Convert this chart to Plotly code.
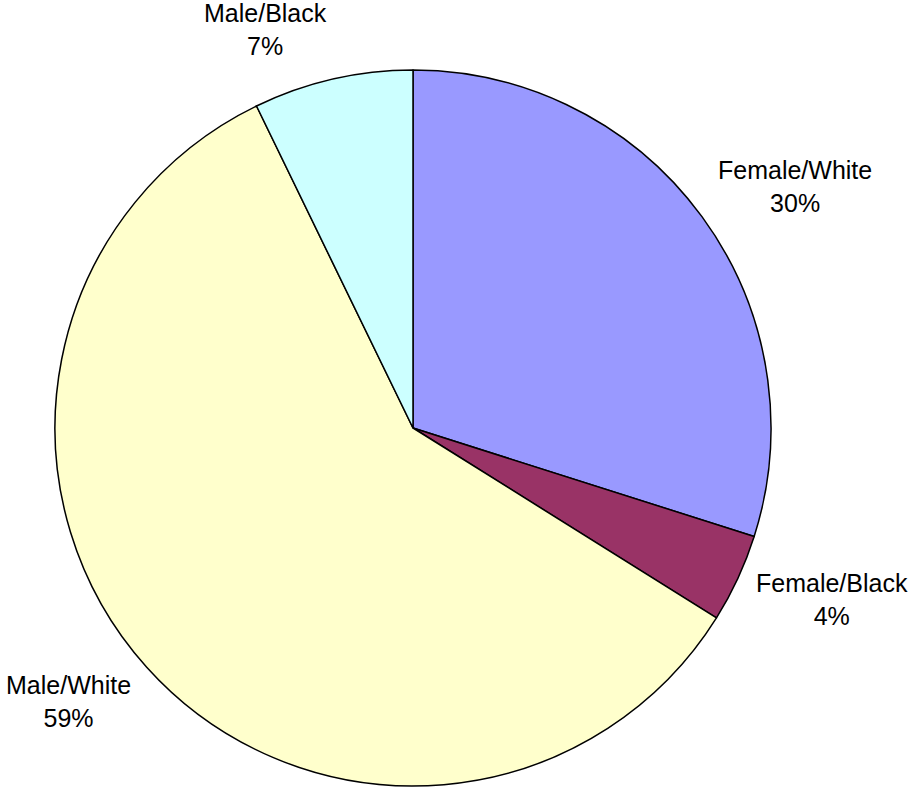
import math
import plotly.graph_objects as go

labels = ["Female/White", "Female/Black", "Male/White", "Male/Black"]
values = [29.9, 4.0, 58.9, 7.2]
colors = ["#9999FF", "#993366", "#FFFFCC", "#CCFFFF"]

W, H = 913, 788
cx, cy, r = 413, 428, 358
label_gap = 18
font_size = 25
block_h = 2 * 1.3 * font_size  # two text lines
font = dict(family="Liberation Sans, Arial, sans-serif", size=font_size, color="black")

fig = go.Figure(go.Pie(
    labels=labels,
    values=values,
    sort=False,
    direction="clockwise",
    rotation=0,
    marker=dict(colors=colors, line=dict(color="black", width=1.5)),
    textinfo="none",
    hoverinfo="label+percent",
    showlegend=False,
    domain=dict(x=[(cx - r) / W, (cx + r) / W], y=[(H - cy - r) / H, (H - cy + r) / H]),
))

# outside-end data labels, placed from each slice's mid-angle
total = sum(values)
cum = 0.0
for lab, v in zip(labels, values):
    mid = (cum + v / 2) / total * 2 * math.pi
    cum += v
    s, c = math.sin(mid), math.cos(mid)
    R = r + label_gap
    px = cx + s * R
    py = cy - c * R - c * block_h / 2
    fig.add_annotation(
        x=px / W, y=1 - py / H, xref="paper", yref="paper",
        text=f"{lab}<br>{round(v / total * 100)}%",
        showarrow=False, font=font, align="center",
        xanchor="left" if s > 0 else "right",
        yanchor="middle",
    )

fig.update_layout(
    width=W, height=H,
    margin=dict(l=0, r=0, t=0, b=0),
    paper_bgcolor="white",
    plot_bgcolor="white",
)
fig.write_html(
    "out.html",
    config={"displayModeBar": False},
    post_script="document.body.style.margin='0px';document.body.style.overflow='hidden';",
)
